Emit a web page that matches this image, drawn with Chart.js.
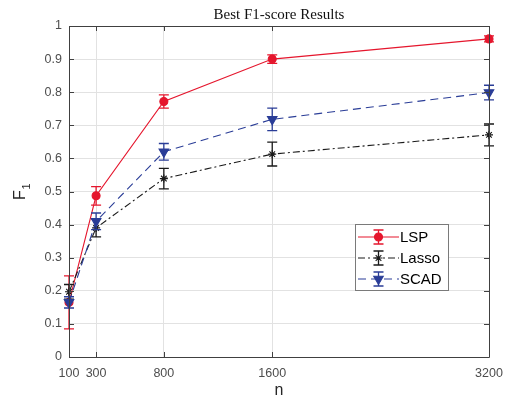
<!DOCTYPE html>
<html>
<head>
<meta charset="utf-8">
<script src="https://cdn.jsdelivr.net/npm/chart.js@4"></script>
<style>
  html, body { margin: 0; padding: 0; background: #fff; }
  canvas { display: block; }
</style>
</head>
<body>
<canvas id="chart" width="508" height="403"></canvas>
<script>
"use strict";

// values
const nValues = [100, 300, 800, 1600, 3200];
const yTicks = [0, 0.1, 0.2, 0.3, 0.4, 0.5, 0.6, 0.7, 0.8, 0.9, 1];

const lspMean = [0.165, 0.487, 0.772, 0.900, 0.961];
const lspErr = [0.080, 0.028, 0.020, 0.013, 0.009];
const lassoMean = [0.197, 0.390, 0.539, 0.613, 0.671];
const lassoErr = [0.022, 0.027, 0.031, 0.036, 0.033];
const scadMean = [0.165, 0.410, 0.620, 0.718, 0.799];
const scadErr = [0.017, 0.025, 0.025, 0.034, 0.022];

const titleText = "Best F1-score Results";
const xTitle = "n";

const RED = "#e5162d", BLACK = "#1a1a1a", BLUE = "#2a3d97";
const AXIS = "#404040", GRID = "#e2e2e2", TICKTXT = "#4d4d4d";

const pts = (ys) => nValues.map((x, i) => ({ x, y: ys[i] }));

const series = [
  { label: "LSP", mean: lspMean, err: lspErr, color: RED, dash: [],
    pointStyle: "circle", radius: 4, rotation: 0, fill: true, order: 2 },
  { label: "Lasso", mean: lassoMean, err: lassoErr, color: BLACK, dash: [7, 3, 2, 3],
    pointStyle: "star", radius: 4, rotation: 0, fill: false, order: 1 },
  { label: "SCAD", mean: scadMean, err: scadErr, color: BLUE, dash: [8, 5],
    pointStyle: "triangle", radius: 5.5, rotation: 180, fill: true, order: 0 },
];

function errBar(ctx, x, yTop, yBot, color) {
  ctx.save();
  ctx.strokeStyle = color;
  ctx.lineWidth = 1.3;
  ctx.setLineDash([]);
  ctx.beginPath();
  ctx.moveTo(x, yTop); ctx.lineTo(x, yBot);
  ctx.moveTo(x - 5, yTop); ctx.lineTo(x + 5, yTop);
  ctx.moveTo(x - 5, yBot); ctx.lineTo(x + 5, yBot);
  ctx.stroke();
  ctx.restore();
}

// error bars, drawn under each dataset's line and markers
const errorBars = {
  id: "errorBars",
  beforeDatasetDraw(chart, args) {
    const s = series[args.index];
    const { x: xs, y: ys } = chart.scales;
    const ctx = chart.ctx;
    nValues.forEach((n, i) => {
      errBar(ctx, xs.getPixelForValue(n),
        ys.getPixelForValue(s.mean[i] + s.err[i]),
        ys.getPixelForValue(s.mean[i] - s.err[i]), s.color);
    });
  },
};

// box, inward ticks, titles, legend
const decor = {
  id: "decor",
  afterDatasetsDraw(chart) {
    const ctx = chart.ctx;
    const a = chart.chartArea;
    const { x: xs, y: ys } = chart.scales;
    ctx.save();
    ctx.strokeStyle = AXIS;
    ctx.lineWidth = 1;
    ctx.setLineDash([]);
    ctx.beginPath();
    ctx.rect(Math.round(a.left) + 0.5, Math.round(a.top) + 0.5,
      Math.round(a.right - a.left), Math.round(a.bottom - a.top));
    for (const n of nValues) {
      const px = Math.round(xs.getPixelForValue(n)) + 0.5;
      ctx.moveTo(px, a.bottom); ctx.lineTo(px, a.bottom - 5);
      ctx.moveTo(px, a.top); ctx.lineTo(px, a.top + 5);
    }
    for (const v of yTicks) {
      const py = Math.round(ys.getPixelForValue(v)) + 0.5;
      ctx.moveTo(a.left, py); ctx.lineTo(a.left + 5, py);
      ctx.moveTo(a.right, py); ctx.lineTo(a.right - 5, py);
    }
    ctx.stroke();

    // title
    ctx.fillStyle = "#111";
    ctx.font = "15px 'Liberation Serif', 'DejaVu Serif', serif";
    ctx.textAlign = "center";
    ctx.textBaseline = "middle";
    ctx.fillText(titleText, (a.left + a.right) / 2, 15);

    // x title
    ctx.fillStyle = "#262626";
    ctx.font = "16px 'Liberation Sans', Arial, sans-serif";
    ctx.fillText(xTitle, (a.left + a.right) / 2, 391);

    // y title F with subscript 1
    ctx.save();
    ctx.translate(25, 200);
    ctx.rotate(-Math.PI / 2);
    ctx.textAlign = "left";
    ctx.textBaseline = "alphabetic";
    ctx.font = "16px 'Liberation Sans', Arial, sans-serif";
    ctx.fillText("F", 0, 0);
    ctx.font = "11px 'Liberation Sans', Arial, sans-serif";
    ctx.fillText("1", 10.5, 5);
    ctx.restore();

    // legend
    const lx = 355, ly = 224, lw = 93, lh = 66;
    ctx.fillStyle = "#fff";
    ctx.fillRect(lx, ly, lw, lh);
    ctx.strokeStyle = "#7a7a7a";
    ctx.strokeRect(lx + 0.5, ly + 0.5, lw, lh);
    series.forEach((s, i) => {
      const cy = ly + 13 + i * 21;
      ctx.save();
      ctx.strokeStyle = s.color;
      ctx.lineWidth = 1.1;
      ctx.setLineDash(s.dash);
      ctx.beginPath();
      ctx.moveTo(358, cy); ctx.lineTo(399, cy);
      ctx.stroke();
      ctx.restore();
      errBar(ctx, 378.5, cy - 7, cy + 7, s.color);
      ctx.save();
      ctx.fillStyle = s.color;
      ctx.strokeStyle = s.color;
      ctx.lineWidth = 1.1;
      Chart.helpers.drawPoint(ctx, {
        pointStyle: s.pointStyle, radius: s.radius, rotation: s.rotation, borderWidth: 1.1,
      }, 378.5, cy);
      ctx.restore();
      ctx.fillStyle = "#000";
      ctx.font = "15px 'Liberation Sans', Arial, sans-serif";
      ctx.textAlign = "left";
      ctx.textBaseline = "middle";
      ctx.fillText(s.label, 400, cy + 1);
    });
    ctx.restore();
  },
};

new Chart(document.getElementById("chart"), {
  type: "line",
  data: {
    datasets: series.map((s) => ({
      label: s.label,
      data: pts(s.mean),
      borderColor: s.color,
      backgroundColor: s.fill ? s.color : "transparent",
      pointBackgroundColor: s.color,
      pointBorderColor: s.color,
      borderWidth: 1.1,
      borderDash: s.dash,
      pointStyle: s.pointStyle,
      pointRadius: s.radius,
      pointRotation: s.rotation,
      pointBorderWidth: 1.1,
      tension: 0,
      fill: false,
      clip: false,
      order: s.order,
    })),
  },
  options: {
    responsive: false,
    animation: false,
    events: [],
    layout: { padding: { left: 0, top: 26, right: 19, bottom: 0 } },
    plugins: { legend: { display: false }, tooltip: { enabled: false } },
    scales: {
      x: {
        type: "linear",
        min: 100,
        max: 3200,
        afterBuildTicks: (scale) => { scale.ticks = nValues.map((v) => ({ value: v })); },
        afterFit: (scale) => { scale.height = 46; scale.paddingLeft = 0; scale.paddingRight = 0; },
        grid: { color: GRID, drawTicks: false },
        border: { display: false },
        ticks: {
          color: TICKTXT, padding: 9, maxRotation: 0, autoSkip: false,
          font: { family: "'Liberation Sans', Arial, sans-serif", size: 12.5 },
          callback: (v) => String(v),
        },
      },
      y: {
        min: 0,
        max: 1,
        afterBuildTicks: (scale) => { scale.ticks = yTicks.map((v) => ({ value: v })); },
        afterFit: (scale) => { scale.width = 69; scale.paddingTop = 0; scale.paddingBottom = 0; },
        grid: { color: GRID, drawTicks: false },
        border: { display: false },
        ticks: {
          color: TICKTXT, padding: 7,
          font: { family: "'Liberation Sans', Arial, sans-serif", size: 12.5 },
          callback: (v) => String(Math.round(v * 10) / 10),
        },
      },
    },
  },
  plugins: [errorBars, decor],
});
</script>
</body>
</html>
